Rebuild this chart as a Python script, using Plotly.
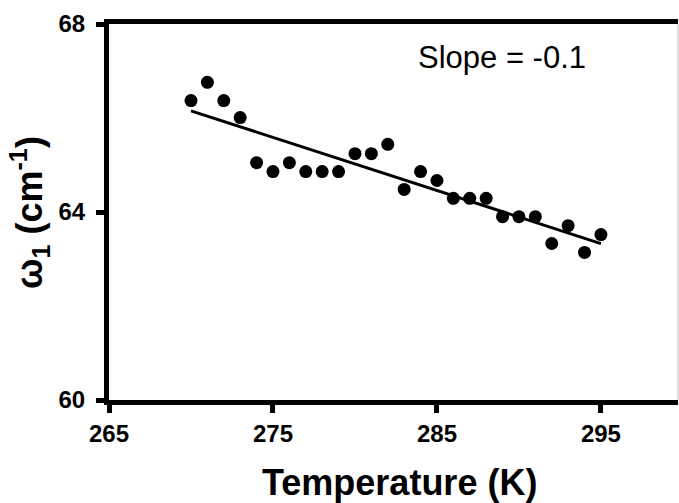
import numpy as np
import plotly.graph_objects as go

temperature_K = [270, 271, 272, 273, 274, 275, 276, 277, 278, 279, 280, 281, 282,
                 283, 284, 285, 286, 287, 288, 289, 290, 291, 292, 293, 294, 295]
omega1_cm = [66.37, 66.76, 66.37, 66.01, 65.05, 64.86, 65.05, 64.86, 64.86, 64.86,
             65.24, 65.24, 65.44, 64.48, 64.86, 64.67, 64.29, 64.29, 64.29, 63.90,
             63.90, 63.90, 63.33, 63.71, 63.14, 63.52]
x_ticks = [265, 275, 285, 295]
y_ticks = [60, 64, 68]
slope_label = "Slope = -0.1"

# linear fit through the data
coef = np.polyfit(temperature_K, omega1_cm, 1)
fit_x = [temperature_K[0], temperature_K[-1]]
fit_y = list(np.polyval(coef, fit_x))

FONT = "Liberation Sans, Arial, sans-serif"

fig = go.Figure()
fig.add_trace(go.Scatter(x=fit_x, y=fit_y, mode="lines",
                         line=dict(color="black", width=3), showlegend=False))
fig.add_trace(go.Scatter(x=temperature_K, y=omega1_cm, mode="markers",
                         marker=dict(color="black", size=13), showlegend=False))

fig.update_layout(
    width=679, height=503,
    margin=dict(l=109, r=1, t=23.5, b=103),
    paper_bgcolor="white", plot_bgcolor="white",
    xaxis=dict(range=[265, 299.7], tickvals=x_ticks, ticks="outside", ticklen=8,
               tickwidth=5, tickcolor="black", showline=True, linewidth=5,
               linecolor="black", mirror=True, showgrid=False, zeroline=False,
               tickfont=dict(family=FONT, size=24, color="black", weight="bold")),
    yaxis=dict(range=[60, 68], tickvals=y_ticks, ticks="outside", ticklen=8,
               tickwidth=5, tickcolor="black", showline=True, linewidth=5,
               linecolor="black", showgrid=False, zeroline=False,
               ticklabelstandoff=6,
               tickfont=dict(family=FONT, size=24, color="black", weight="bold")),
    shapes=[dict(type="line", xref="paper", yref="paper", x0=1, x1=1, y0=0, y1=1,
                 line=dict(color="#bbbbbb", width=1))],
    annotations=[
        dict(text="Temperature (K)", xref="paper", yref="paper", x=0.511, y=-0.2205,
             xanchor="center", yanchor="middle", showarrow=False,
             font=dict(family=FONT, size=36, color="black", weight="bold")),
        dict(text="ω<sub>1</sub> (cm<sup>-1</sup>)", xref="paper", yref="paper",
             x=-0.1406, y=0.5, xanchor="center", yanchor="middle", textangle=-90,
             showarrow=False,
             font=dict(family=FONT, size=36, color="black", weight="bold")),
        dict(text=slope_label, xref="paper", yref="paper", x=0.6907, y=0.91,
             xanchor="center", yanchor="middle", showarrow=False,
             font=dict(family=FONT, size=31, color="black")),
    ],
)

fig.write_html("out.html", config={"displayModeBar": False},
               post_script="document.body.style.margin='0';document.body.style.overflow='hidden';")
